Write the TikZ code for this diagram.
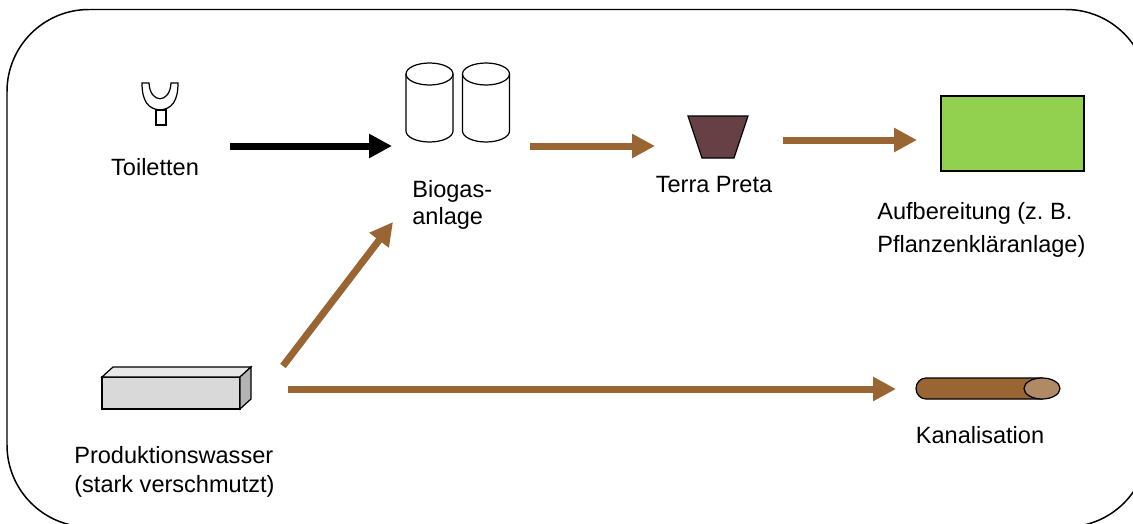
\documentclass[tikz,border=0pt]{standalone}
\usepackage{fontspec}
\setmainfont{Liberation Sans}
\usetikzlibrary{arrows.meta}

\definecolor{flowbrown}{HTML}{996633}
\definecolor{terracol}{HTML}{664045}
\definecolor{plantgreen}{HTML}{92D050}
\definecolor{pipeend}{HTML}{B08A64}
\definecolor{boxfront}{HTML}{D9D9D9}
\definecolor{boxtop}{HTML}{E8E8E8}
\definecolor{boxside}{HTML}{B3B3B3}

\begin{document}
\begin{tikzpicture}[x=0.02cm,y=-0.02cm,
  flow/.style={line width=0.14cm, -{Triangle[length=0.46cm,width=0.46cm]}},
  icon/.style={draw=black, line width=0.7pt},
  lbl/.style={font=\fontsize{13.4}{16}\selectfont, inner sep=0}]

\useasboundingbox (0,0) rectangle (1133,524);

% Frame
\draw[line width=0.85pt, rounded corners=1.64cm] (7,9.5) rectangle (1148,527);

% Toilets
\draw[icon] (142,83) -- (149,83) .. controls (150,104) and (170,104) .. (171,83) -- (178,83) .. controls (178,101) and (172,109) .. (160,110) .. controls (148,109) and (142,101) .. (142,83) -- cycle;
\draw[icon] (156,110) rectangle (166,125);
\node[lbl, anchor=base] (toilbl) at (155,175) {Toiletten};

% Biogas plant
\foreach \cx in {429.5,486}{
  \draw[icon, fill=white] (\cx-23.5,74) -- (\cx-23.5,131) arc[start angle=180, end angle=0, x radius=23.5, y radius=11] -- (\cx+23.5,74);
  \draw[icon] (\cx,74) ellipse[x radius=23.5, y radius=11];
}
\node[lbl, font=\fontsize{13.4}{15.3}\selectfont, align=left, anchor=north west] (biolbl) at (412,180) {Biogas-\\anlage};

% Terra Preta
\draw[icon, fill=terracol] (688,116) -- (748,116) -- (734,158) -- (702,158) -- cycle;
\node[lbl, anchor=base] (terralbl) at (714,192) {Terra Preta};

% Treatment
\draw[icon, fill=plantgreen] (941,96) rectangle (1084,171);
\node[lbl, font=\fontsize{13.4}{18.7}\selectfont, align=left, anchor=north west] (auflbl) at (877,202) {Aufbereitung (z.\ B.\\Pflanzenkläranlage)};

% Process water
\draw[icon, fill=boxfront] (102,377) rectangle (240,409);
\draw[icon, fill=boxtop] (102,377) -- (113,367) -- (251,367) -- (240,377) -- cycle;
\draw[icon, fill=boxside] (240,377) -- (251,367) -- (251,399) -- (240,409) -- cycle;
\node[lbl, font=\fontsize{13.4}{16.4}\selectfont, align=left, anchor=north west] (prodlbl) at (74,446) {Produktionswasser\\(stark verschmutzt)};

% Sewer
\draw[icon, fill=flowbrown] (1042,378) -- (926,378) arc[start angle=270, end angle=90, x radius=10, y radius=10.5] -- (1042,399) -- cycle;
\draw[icon, fill=pipeend] (1042,388.5) ellipse[x radius=18, y radius=10.5];
\node[lbl, anchor=base] (kanlbl) at (980,443) {Kanalisation};

% Arrows
\coordinate (toi-out) at (230,146);
\coordinate (bio-in) at (392,146);
\coordinate (bio-out) at (530,146);
\coordinate (terra-in) at (655,146);
\coordinate (terra-out) at (783,140);
\coordinate (auf-in) at (917,140);
\coordinate (prod-up) at (283,366);
\coordinate (bio-low) at (393,222);
\coordinate (prod-out) at (288,389);
\coordinate (kan-in) at (896,389);

\draw[flow, black] (toi-out) -- (bio-in);
\draw[flow, flowbrown] (bio-out) -- (terra-in);
\draw[flow, flowbrown] (terra-out) -- (auf-in);
\draw[flow, flowbrown] (prod-up) -- (bio-low);
\draw[flow, flowbrown] (prod-out) -- (kan-in);
\end{tikzpicture}
\end{document}
